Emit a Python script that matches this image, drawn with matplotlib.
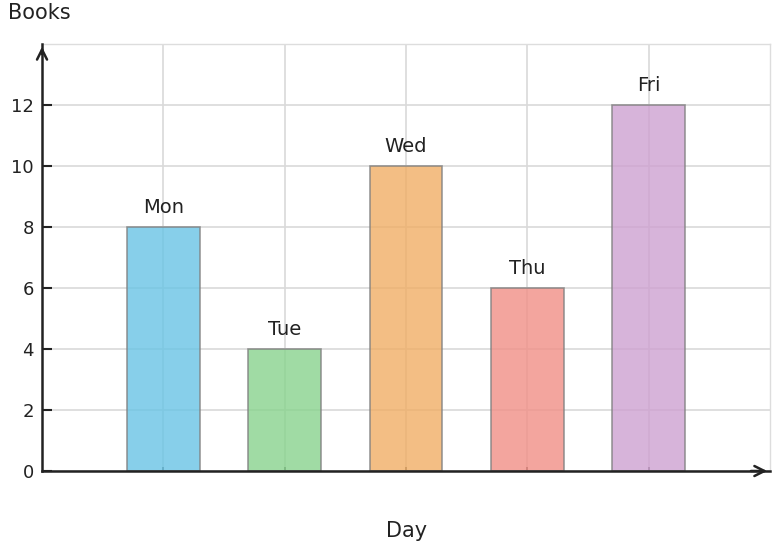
import matplotlib
matplotlib.use("Agg")
import matplotlib.pyplot as plt

days = ["Mon", "Tue", "Wed", "Thu", "Fri"]
books = [8, 4, 10, 6, 12]
bar_colors = ["#69C4E5", "#88D38D", "#F0AE65", "#F18F86", "#CEA1D1"]
y_ticks = [0, 2, 4, 6, 8, 10, 12]

fig = plt.figure(figsize=(7.74, 5.48), dpi=100)
ax = fig.add_axes([0.0543, 0.1405, 0.9405, 0.7792])

x = list(range(len(days)))
ax.bar(x, books, width=0.6, color=bar_colors, alpha=0.8,
       edgecolor="#808080", linewidth=1.2, zorder=3)

# day names sit on top of each bar
for xi, v, name in zip(x, books, days):
    ax.text(xi, v + 0.33, name, ha="center", va="bottom", fontsize=14, color="#222222")

ax.set_xlim(-1, 5)
ax.set_ylim(0, 14)
ax.set_xticks(x)
ax.set_xticklabels([])
ax.set_yticks(y_ticks)
ax.tick_params(axis="y", direction="in", length=7, width=1.5, labelsize=13,
               colors="#222222", pad=6)
ax.tick_params(axis="x", direction="in", length=3, width=1.2, colors="#444444")

ax.grid(True, color="#d9d9d9", linewidth=1.2, zorder=0)
ax.set_axisbelow(True)

for side in ["top", "right"]:
    ax.spines[side].set_color("#dddddd")
    ax.spines[side].set_linewidth(1)
for side in ["left", "bottom"]:
    ax.spines[side].set_color("#222222")
    ax.spines[side].set_linewidth(1.8)
    ax.spines[side].set_zorder(4)

# arrow heads
ax.annotate("", xy=(1, 0), xytext=(0.97, 0), xycoords="axes fraction",
            arrowprops=dict(arrowstyle="->", color="#222222", lw=1.8,
                            mutation_scale=18), annotation_clip=False)
ax.annotate("", xy=(0, 1), xytext=(0, 0.97), xycoords="axes fraction",
            arrowprops=dict(arrowstyle="->", color="#222222", lw=1.8,
                            mutation_scale=18), annotation_clip=False)

fig.text(0.010, 0.977, "Books", ha="left", va="center", fontsize=15, color="#222222")
fig.text(0.525, 0.031, "Day", ha="center", va="center", fontsize=15, color="#222222")

fig.savefig("out.png", dpi=100)
